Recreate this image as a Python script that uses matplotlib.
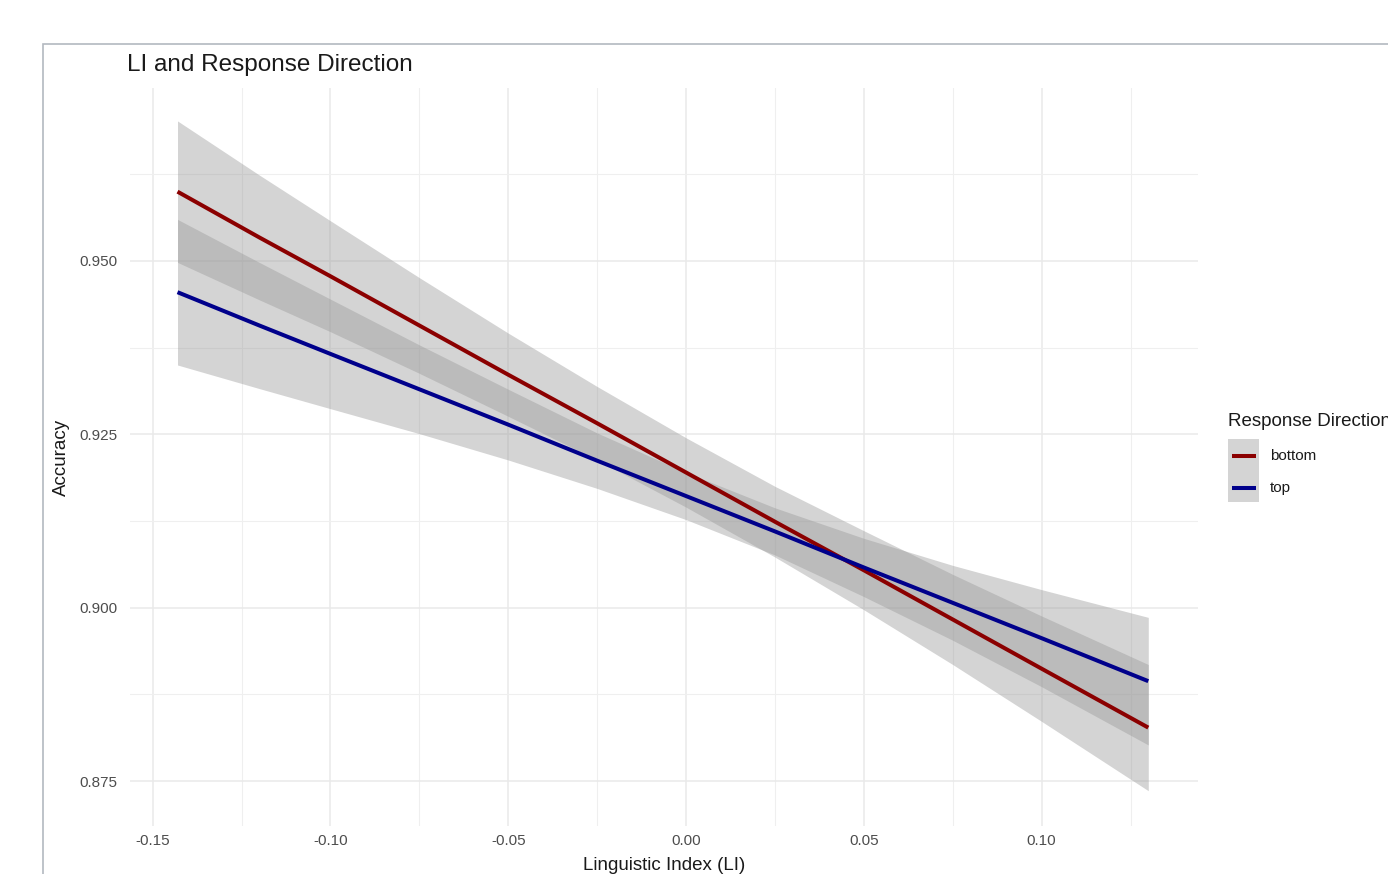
import numpy as np
import matplotlib.pyplot as plt
from matplotlib.patches import Rectangle
from matplotlib.lines import Line2D

# Fitted accuracy and confidence half-widths, per direction
li = [-0.143, -0.12, -0.10, -0.075, -0.05, -0.025, 0.0, 0.025, 0.05, 0.075, 0.10, 0.13]

bottom_fit = [0.9600, 0.9534, 0.9478, 0.9407, 0.9336, 0.9266, 0.9195, 0.9124, 0.9054, 0.8983, 0.8912, 0.8827]
bottom_hw = [0.0102, 0.0090, 0.0080, 0.0069, 0.0060, 0.0053, 0.0050, 0.0051, 0.0057, 0.0065, 0.0076, 0.0091]

top_fit = [0.9455, 0.9407, 0.9366, 0.9315, 0.9264, 0.9212, 0.9161, 0.9110, 0.9058, 0.9007, 0.8956, 0.8894]
top_hw = [0.0105, 0.0091, 0.0079, 0.0064, 0.0051, 0.0040, 0.0034, 0.0034, 0.0042, 0.0054, 0.0070, 0.0092]

series = [("bottom", bottom_fit, bottom_hw, "#8B0000"),
          ("top", top_fit, top_hw, "#00008B")]

x_major = [-0.15, -0.10, -0.05, 0.00, 0.05, 0.10]
y_major = [0.875, 0.900, 0.925, 0.950]

plt.rcParams['font.family'] = ['Liberation Sans', 'DejaVu Sans']

W, H = 1388, 874
fig = plt.figure(figsize=(W / 100, H / 100), dpi=100)

def fx(px):
    return px / W

def fy(py):
    return 1 - py / H

# outer frame, runs off the right and bottom edges
fig.add_artist(Rectangle((fx(43), -0.1), 1.2, fy(44) + 0.1, transform=fig.transFigure,
                         fill=False, edgecolor="#b3b9c0", linewidth=1.2))

ax = fig.add_axes([fx(130), fy(826), fx(1198) - fx(130), fy(88) - fy(826)])
ax.set_xlim(-0.15636, 0.14398)
ax.set_ylim(0.86851, 0.97495)

for spine in ax.spines.values():
    spine.set_visible(False)

ax.set_xticks(x_major)
ax.set_xticks(np.arange(-0.125, 0.14, 0.05), minor=True)
ax.set_yticks(y_major)
ax.set_yticks(np.arange(0.8875, 0.97, 0.025), minor=True)
ax.set_xticklabels([f"{v:.2f}" for v in x_major])
ax.set_yticklabels([f"{v:.3f}" for v in y_major])
ax.tick_params(which="both", length=0, labelsize=11, labelcolor="#4d4d4d")
ax.tick_params(axis="x", pad=6)
ax.tick_params(axis="y", pad=9)
ax.grid(which="major", color="#e9e9e9", linewidth=1.1)
ax.grid(which="minor", color="#efefef", linewidth=0.8)
ax.set_axisbelow(True)

for name, fit, hw, col in series:
    fit = np.array(fit)
    hw = np.array(hw)
    ax.fill_between(li, fit - hw, fit + hw, color="#999999", alpha=0.42, linewidth=0)
    ax.plot(li, fit, color=col, linewidth=2.9, solid_capstyle="butt")

ax.set_xlabel("Linguistic Index (LI)", fontsize=13.5, color="#1a1a1a", labelpad=6)
ax.set_ylabel("Accuracy", fontsize=13.5, color="#1a1a1a", labelpad=7)

fig.text(fx(127), fy(65), "LI and Response Direction", fontsize=17.5,
         color="#1a1a1a", ha="left", va="center")

# legend, drawn by hand to get ggplot's stacked key box
fig.text(fx(1228), fy(421), "Response Direction", fontsize=13.5,
         color="#1a1a1a", ha="left", va="center")
fig.add_artist(Rectangle((fx(1228), fy(502)), fx(31), fy(439) - fy(502),
                         transform=fig.transFigure, facecolor="#999999",
                         alpha=0.42, linewidth=0))
for (name, fit, hw, col), ky in zip(series, [456, 488]):
    fig.add_artist(Line2D([fx(1232), fx(1256)], [fy(ky), fy(ky)],
                          transform=fig.transFigure, color=col, linewidth=2.9,
                          solid_capstyle="butt"))
    fig.text(fx(1270), fy(ky), name, fontsize=11, color="#1a1a1a",
             ha="left", va="center")

fig.savefig("out.png", dpi=100)
